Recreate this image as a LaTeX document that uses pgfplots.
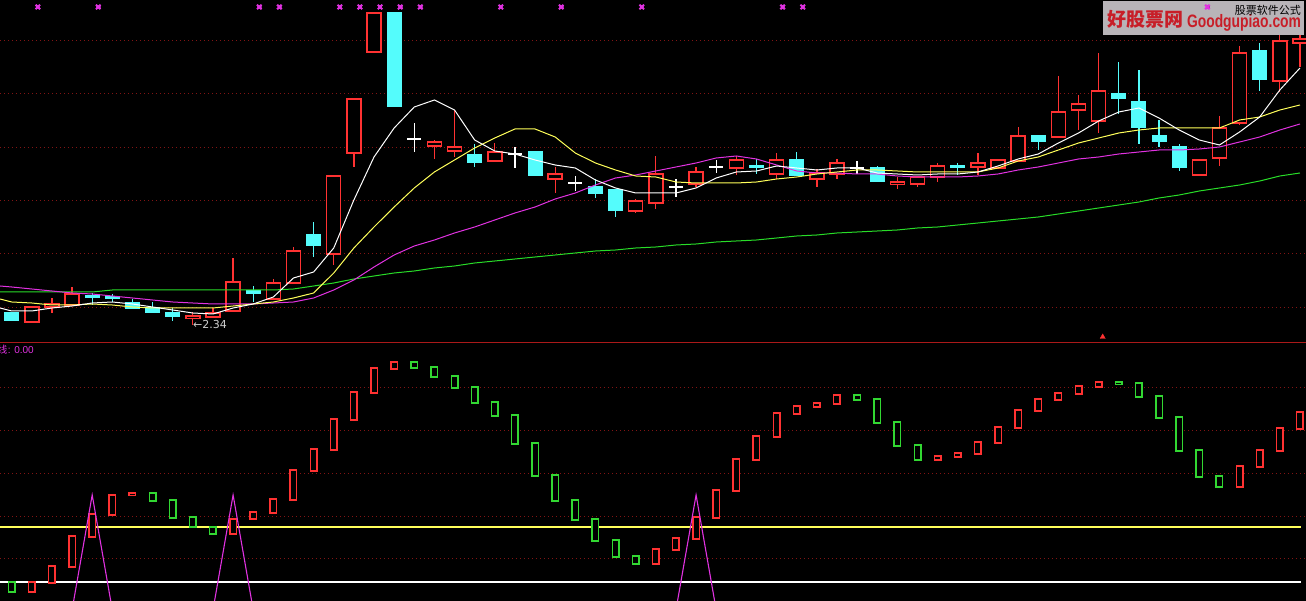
\documentclass[border=0pt]{standalone}
\usepackage{pgfplots}
\pgfplotsset{compat=1.18}
\usepackage{pgfplotstable}
\usepackage{fontspec}
\setmainfont{Liberation Sans}
\newfontfamily\cjk{Noto Sans CJK SC}
\newfontfamily\dv{DejaVu Sans}

\definecolor{cred}{RGB}{255,50,50}
\definecolor{ccyan}{RGB}{84,252,252}
\definecolor{cgreen}{RGB}{50,215,50}
\definecolor{ma5}{RGB}{255,255,255}
\definecolor{ma10}{RGB}{255,255,90}
\definecolor{ma20}{RGB}{225,50,225}
\definecolor{ma60}{RGB}{40,220,40}
\definecolor{gridred}{RGB}{130,20,20}
\definecolor{sepred}{RGB}{170,25,25}
\definecolor{wmgray}{RGB}{184,180,184}
\definecolor{wmred}{RGB}{200,30,40}
\definecolor{lgray}{RGB}{205,205,205}

% price panel, values in screen rows (0 = top)
% i  body-top  body-bottom  high  low
\pgfplotstableread{
i bt bb h l
1 307 322 306 322
2 304 307 298 313
3 294 305 287 305
9 316 318 312 325
10 313 317 308 317
11 282 311 258 311
13 283 299 279 299
14 251 283 247 283
16 176 254 176 265
17 99 153 99 167
18 13 52 13 53
21 142 146 140 159
22 147 151 110 157
24 152 161 143 161
27 174 179 167 193
31 201 211 199 213
32 174 203 156 209
34 172 184 167 187
36 160 168 156 175
38 160 174 153 179
40 173 179 169 187
41 163 174 159 179
44 182 184 177 189
45 177 184 177 187
46 166 177 163 182
48 163 167 153 175
49 160 168 159 168
50 136 161 127 161
52 112 137 76 138
53 104 110 95 130
54 91 121 53 133
59 160 175 160 176
60 128 158 116 166
61 53 123 46 125
63 41 81 28 92
64 39 43 27 67
}\up

\pgfplotstableread{
i bt bb h l
0 313 321 313 321
4 296 298 293 305
5 297 299 294 302
6 303 309 299 309
7 308 313 302 313
8 313 317 308 321
12 291 294 286 302
15 235 246 222 257
19 13 107 13 107
23 155 163 144 167
26 152 176 151 176
29 187 194 179 198
30 190 211 190 217
37 166 168 159 174
39 160 176 152 176
43 168 182 166 182
47 166 168 163 175
51 136 142 136 150
55 94 99 62 114
56 102 128 70 144
57 136 142 120 147
58 147 168 144 171
62 51 80 43 91
}\down

\pgfplotstableread{
i c h l
20 139 123 152
25 154 147 168
28 183 176 191
33 187 179 197
35 167 160 173
42 168 161 174
}\doji

\pgfplotstableread{
i m5 m10 m20 m60
-0.58 308 299 286 292
0 311 302 287 292
1 311 303 289 292
2 308 305 291 292
3 306 305 293 292
4 303 304 294 292
5 302 305 296 290
6 304 307 298 290
7 307 308 300 290
8 310 308 302 290
9 313 308 303 290
10 314 308 304 290
11 308 306 304 290
12 304 304 304 290
13 297 302 303 290
14 278 298 302 289
15 272 293 298 286
16 248 273 290 283
17 200 248 280 279
18 157 227 267 276
19 128 207 255 273
20 107 188 246 271
21 100 172 240 268
22 110 160 233 266
23 140 148 227 263
24 151 138 220 261
25 154 129 213 259
26 160 129 207 257
27 165 137 199 255
28 168 153 193 253
29 180 163 185 251
30 188 170 178 250
31 193 176 175 248
32 193 177 171 247
33 193 182 167 245
34 188 183 163 244
35 178 183 158 242
36 172 183 156 241
37 171 182 159 240
38 166 179 165 238
39 168 177 171 236
40 170 174 173 235
41 168 172 173 233
42 168 170 174 232
43 173 170 174 231
44 174 171 176 230
45 175 172 177 228
46 174 172 177 227
47 174 172 177 225
48 172 172 176 223
49 166 168 174 221
50 159 161 170 219
51 154 157 167 217
52 143 150 163 214
53 133 143 159 211
54 121 138 157 208
55 112 133 154 205
56 108 130 152 202
57 118 128 150 198
58 130 128 150 195
59 140 128 149 191
60 145 128 147 188
61 132 120 142 185
62 117 117 137 181
63 90 110 130 176
64 68 105 124 173
}\ma

% indicator panel
\pgfplotstableread{
i bt bb
1 582 592
2 566 583
3 536 567
4 514 537
5 495 515
6 493 495
11 519 534
12 512 519
13 499 513
14 470 500
15 449 471
16 419 450
17 392 420
18 368 393
19 362 369
32 549 564
33 538 550
34 517 539
35 490 518
36 459 491
37 436 460
38 413 437
39 406 414
40 403 407
41 395 404
46 456 460
47 453 457
48 442 454
49 427 443
50 410 428
51 399 411
52 393 400
53 386 394
54 382 387
61 466 487
62 450 467
63 428 451
64 412 429
}\indup

\pgfplotstableread{
i bt bb
0 582 592
7 493 501
8 500 518
9 517 527
10 527 534
20 362 368
21 367 377
22 376 388
23 387 403
24 402 416
25 415 444
26 443 476
27 475 501
28 500 520
29 519 541
30 540 557
31 556 564
42 395 400
43 399 423
44 422 446
45 445 460
55 382 384
56 383 397
57 396 418
58 417 451
59 450 477
60 476 487
}\inddown

\pgfplotsset{
  panel/.style={hide axis, scale only axis, width=1306pt,
    xmin=-0.58, xmax=64.30, y dir=reverse, clip=true},
  gridln/.style={gridred, line width=1pt, dash pattern=on 1pt off 3pt, forget plot},
  ebar/.style 2 args={draw=none, mark=none, forget plot,
    error bars/.cd, y dir=both, y explicit, error mark=none,
    error bar style={draw=#1, line width=#2, solid}},
}

\begin{document}
\begin{tikzpicture}
\fill[black] (0,0) rectangle (1306pt,601pt);

\begin{axis}[panel, at={(0pt,259pt)}, anchor=south west,
  height=342pt, ymin=0, ymax=342]
\pgfplotsinvokeforeach{41,94,148,201,254,308}{
  \addplot[gridln] coordinates {(-0.58,#1) (64.3,#1)};
}
% wicks
\addplot[ebar={cred}{1.3pt}] table[x=i, y expr={(\thisrow{h}+\thisrow{l})/2},
  y error expr={(\thisrow{l}-\thisrow{h})/2}] {\up};
\addplot[ebar={ccyan}{1.3pt}] table[x=i, y expr={(\thisrow{h}+\thisrow{l})/2},
  y error expr={(\thisrow{l}-\thisrow{h})/2}] {\down};
\addplot[ebar={white}{1.3pt}] table[x=i, y expr={(\thisrow{h}+\thisrow{l})/2},
  y error expr={(\thisrow{l}-\thisrow{h})/2}] {\doji};
\addplot[draw=none, mark=none, forget plot,
  error bars/.cd, x dir=both, x fixed=0.35, error mark=none,
  error bar style={draw=white, line width=1.3pt}]
  table[x=i, y=c] {\doji};
% bodies
\addplot[ebar={cred}{15.5pt}] table[x=i, y expr={(\thisrow{bt}+\thisrow{bb})/2},
  y error expr={(\thisrow{bb}-\thisrow{bt})/2+0.75}] {\up};
\addplot[ebar={black}{12.5pt}] table[x=i, y expr={(\thisrow{bt}+\thisrow{bb})/2},
  y error expr={max((\thisrow{bb}-\thisrow{bt})/2-0.75,0)}] {\up};
\addplot[ebar={ccyan}{15pt}] table[x=i, y expr={(\thisrow{bt}+\thisrow{bb})/2},
  y error expr={(\thisrow{bb}-\thisrow{bt})/2+0.5}] {\down};
% moving averages
\addplot[ma60, line width=1pt] table[x=i, y=m60] {\ma};
\addplot[ma20, line width=1pt] table[x=i, y=m20] {\ma};
\addplot[ma10, line width=1pt] table[x=i, y=m10] {\ma};
\addplot[ma5, line width=1pt] table[x=i, y=m5] {\ma};
% signal marks
\addplot[only marks, mark=square*, mark size=1.6pt, ma20!70!black] coordinates {
  (1.3,7) (4.3,7) (12.3,7) (13.3,7) (16.3,7) (17.3,7) (18.3,7) (19.3,7)
  (20.3,7) (24.3,7) (27.3,7) (31.3,7) (38.3,7) (39.3,7) (59.4,7)};
\addplot[only marks, mark=x, mark size=3.2pt, ma20, line width=2pt] coordinates {
  (1.3,7) (4.3,7) (12.3,7) (13.3,7) (16.3,7) (17.3,7) (18.3,7) (19.3,7)
  (20.3,7) (24.3,7) (27.3,7) (31.3,7) (38.3,7) (39.3,7) (59.4,7)};
\addplot[only marks, mark=triangle*, mark size=3pt, cred] coordinates {(54.2,337)};
\node[anchor=west, inner sep=0pt, text=lgray, font=\dv\fontsize{11}{13}\selectfont]
  at (axis cs:9.0,325) {←2.34};
% watermark
\node[fill=wmgray, anchor=north west, minimum width=201pt, minimum height=34pt,
  inner sep=0pt] at (axis cs:54.21,1) {};
\node[anchor=west, inner sep=0pt, text=wmred, font=\cjk\bfseries\fontsize{19}{19}\selectfont]
  at (axis cs:54.41,19) {好股票网};
\node[anchor=base west, inner sep=0pt, text=wmred, font=\bfseries\fontsize{18}{18}\selectfont]
  at (axis cs:58.38,28) {\scalebox{0.77}[1]{Goodgupiao.com}};
\node[anchor=east, inner sep=0pt, text=black, font=\cjk\fontsize{11}{11}\selectfont]
  at (axis cs:64.06,10) {股票软件公式};
\end{axis}

\begin{axis}[panel, at={(0pt,0pt)}, anchor=south west,
  height=259pt, ymin=342, ymax=601]
\pgfplotsinvokeforeach{388,431,474,517,559}{
  \addplot[gridln] coordinates {(-0.58,#1) (64.3,#1)};
}
\addplot[sepred, line width=1.2pt] coordinates {(-0.58,342.6) (64.3,342.6)};
\addplot[ma10, line width=1.3pt] coordinates {(-0.58,527) (64.05,527)};
\addplot[white, line width=1.3pt] coordinates {(-0.58,582) (64.05,582)};
\addplot[ebar={cred}{8pt}] table[x=i, y expr={(\thisrow{bt}+\thisrow{bb})/2},
  y error expr={(\thisrow{bb}-\thisrow{bt})/2+0.75}] {\indup};
\addplot[ebar={black}{5pt}] table[x=i, y expr={(\thisrow{bt}+\thisrow{bb})/2},
  y error expr={max((\thisrow{bb}-\thisrow{bt})/2-0.75,0)}] {\indup};
\addplot[ebar={cgreen}{8pt}] table[x=i, y expr={(\thisrow{bt}+\thisrow{bb})/2},
  y error expr={(\thisrow{bb}-\thisrow{bt})/2+0.75}] {\inddown};
\addplot[ebar={black}{5pt}] table[x=i, y expr={(\thisrow{bt}+\thisrow{bb})/2},
  y error expr={max((\thisrow{bb}-\thisrow{bt})/2-0.75,0)}] {\inddown};
\addplot[ma20, line width=1.1pt] coordinates {
  (0,610) (1,610) (2,610) (3,610) (4,495) (5,610) (6,610) (7,610) (8,610)
  (9,610) (10,610) (11,495) (12,610) (13,610) (14,610) (15,610) (16,610)
  (17,610) (18,610) (19,610) (20,610) (21,610) (22,610) (23,610) (24,610)
  (25,610) (26,610) (27,610) (28,610) (29,610) (30,610) (31,610) (32,610)
  (33,610) (34,495) (35,610) (36,610) (37,610) (38,610) (39,610) (40,610)
  (41,610) (42,610) (43,610) (44,610) (45,610) (46,610) (47,610) (48,610)
  (49,610) (50,610) (51,610) (52,610) (53,610) (54,610) (55,610) (56,610)
  (57,610) (58,610) (59,610) (60,610) (61,610) (62,610) (63,610) (64,610)};
\node[anchor=east, inner sep=0pt, text=ma20, font=\cjk\fontsize{10}{10}\selectfont]
  at (axis cs:-0.2,350) {线};
\node[anchor=west, inner sep=0pt, text=ma20, font=\fontsize{10}{10}\selectfont]
  at (axis cs:-0.2,350) {: 0.00};
\end{axis}

\pgfresetboundingbox
\path (0,0) rectangle (1306pt,601pt);
\end{tikzpicture}
\end{document}
